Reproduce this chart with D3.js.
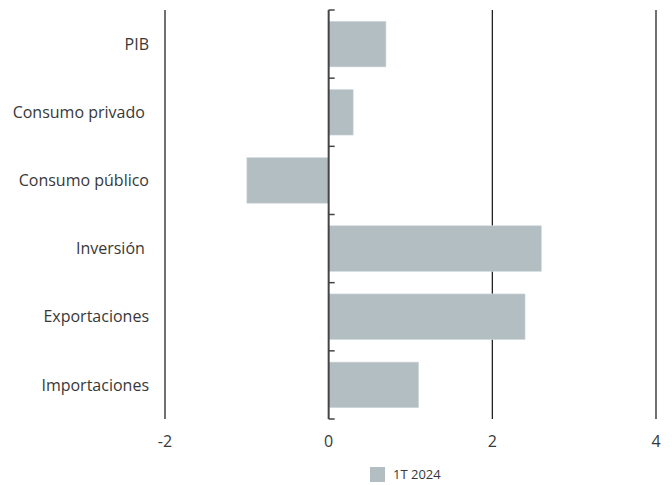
<!DOCTYPE html>
<html>
<head>
<meta charset="utf-8">
<script src="https://cdn.jsdelivr.net/npm/d3@7"></script>
<style>
  body { margin: 0; background: #fff; }
  svg text { font-family: "Open Sans", "Noto Sans", sans-serif; fill: #383838; }
</style>
</head>
<body>
<div class="chart"></div>
<script>
const categories = ['PIB', 'Consumo privado ', 'Consumo público', 'Inversión ', 'Exportaciones', 'Importaciones'];
const values = [0.7, 0.3, -1.0, 2.6, 2.4, 1.1];
const xTicks = [-2, 0, 2, 4];
const seriesName = '1T 2024';

const w = 672;
const h = 485;
const margin = { top: 10, right: 16, bottom: 66, left: 165 };

const xScale = d3.scaleLinear()
                 .domain([-2, 4])
                 .range([margin.left, w - margin.right]);

const yScale = d3.scaleBand()
                 .domain(categories)
                 .range([margin.top, h - margin.bottom])
                 .paddingInner(0.33)
                 .paddingOuter(0.165);

const svg = d3.select('.chart')
              .append('svg')
              .attr('width', w)
              .attr('height', h);

// vertical grid lines (not at zero, the axis line goes there)
svg.selectAll('line.grid')
   .data(xTicks.filter(d => d !== 0))
   .enter()
   .append('line')
   .attr('class', 'grid')
   .attr('x1', d => xScale(d))
   .attr('x2', d => xScale(d))
   .attr('y1', margin.top)
   .attr('y2', h - margin.bottom)
   .attr('stroke', '#111')
   .attr('stroke-width', 1.2);

svg.selectAll('rect.bar')
   .data(values)
   .enter()
   .append('rect')
   .attr('class', 'bar')
   .attr('x', d => xScale(Math.min(0, d)))
   .attr('y', (d, i) => yScale(categories[i]))
   .attr('width', d => Math.abs(xScale(d) - xScale(0)))
   .attr('height', yScale.bandwidth())
   .attr('fill', '#b3bec2')
   .attr('stroke', '#d5dcde')
   .attr('stroke-width', 0.6);

// zero axis with band-boundary ticks
const zero = xScale(0);
svg.append('line')
   .attr('x1', zero)
   .attr('x2', zero)
   .attr('y1', margin.top)
   .attr('y2', h - margin.bottom)
   .attr('stroke', '#444')
   .attr('stroke-width', 2);

const step = yScale.step();
const bounds = d3.range(categories.length + 1).map(i => margin.top + i * step);
svg.selectAll('line.ytick')
   .data(bounds)
   .enter()
   .append('line')
   .attr('class', 'ytick')
   .attr('x1', zero)
   .attr('x2', zero + 6)
   .attr('y1', d => d)
   .attr('y2', d => d)
   .attr('stroke', '#444')
   .attr('stroke-width', 1.5);

// category labels
svg.selectAll('text.cat')
   .data(categories)
   .enter()
   .append('text')
   .attr('class', 'cat')
   .attr('x', 149)
   .attr('y', d => yScale(d) + yScale.bandwidth() / 2)
   .attr('dy', '0.35em')
   .style('text-anchor', 'end')
   .style('font-size', '16px')
   .style('white-space', 'pre')
   .text(d => d);

// x tick labels
svg.selectAll('text.xlab')
   .data(xTicks)
   .enter()
   .append('text')
   .attr('class', 'xlab')
   .attr('x', d => xScale(d))
   .attr('y', 447)
   .style('text-anchor', 'middle')
   .style('font-size', '16px')
   .text(d => d);

// legend
svg.append('rect')
   .attr('x', 370)
   .attr('y', 467)
   .attr('width', 15)
   .attr('height', 15)
   .attr('fill', '#b3bec2');

svg.append('text')
   .attr('x', 393)
   .attr('y', 479)
   .style('font-size', '13px')
   .text(seriesName);
</script>
</body>
</html>
